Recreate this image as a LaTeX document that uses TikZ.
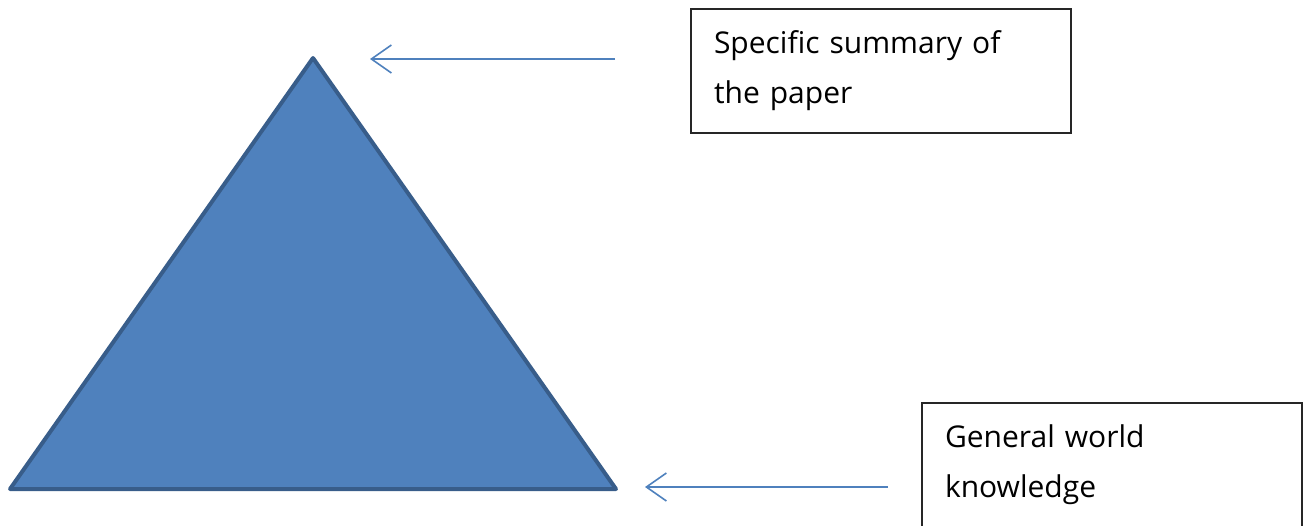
\documentclass[tikz,border=0pt]{standalone}
\usepackage{fontspec}
\setmainfont{Open Sans}
\usetikzlibrary{arrows.meta}
\definecolor{trifill}{HTML}{4F81BD}
\definecolor{triedge}{HTML}{385D8A}
\definecolor{arrowblue}{HTML}{4F81BD}
\definecolor{boxedge}{HTML}{262626}
\tikzset{
  labelbox/.style={draw=boxedge, line width=2pt, rectangle, minimum width=380pt, minimum height=124pt,
    text width=334pt, inner xsep=23pt, inner ysep=0pt, align=left,
    font=\fontsize{30}{50}\selectfont, anchor=north west},
  pointer/.style={draw=arrowblue, line width=1.6pt, -{Straight Barb[length=20pt, width=28pt, line width=1.6pt]}}
}
\begin{document}
\begin{tikzpicture}[x=1pt,y=-1pt]
\useasboundingbox (0,0) rectangle (1307,525);
\clip (0,0) rectangle (1307,525);
\coordinate (apex) at (313,58);
\coordinate (bl) at (10,489);
\coordinate (br) at (616,489);
\draw[fill=trifill, draw=triedge, line width=4pt, line join=round] (apex) -- (br) -- (bl) -- cycle;
\node[labelbox] (top) at (690,8) {Specific summary of\\the paper};
\node[labelbox] (bottom) at (921,402) {General world\\knowledge};
\coordinate (a1s) at (615,59);
\coordinate (a1e) at (370,59);
\coordinate (a2s) at (888,487);
\coordinate (a2e) at (645,487);
\draw[pointer] (a1s) -- (a1e);
\draw[pointer] (a2s) -- (a2e);
\end{tikzpicture}
\end{document}
